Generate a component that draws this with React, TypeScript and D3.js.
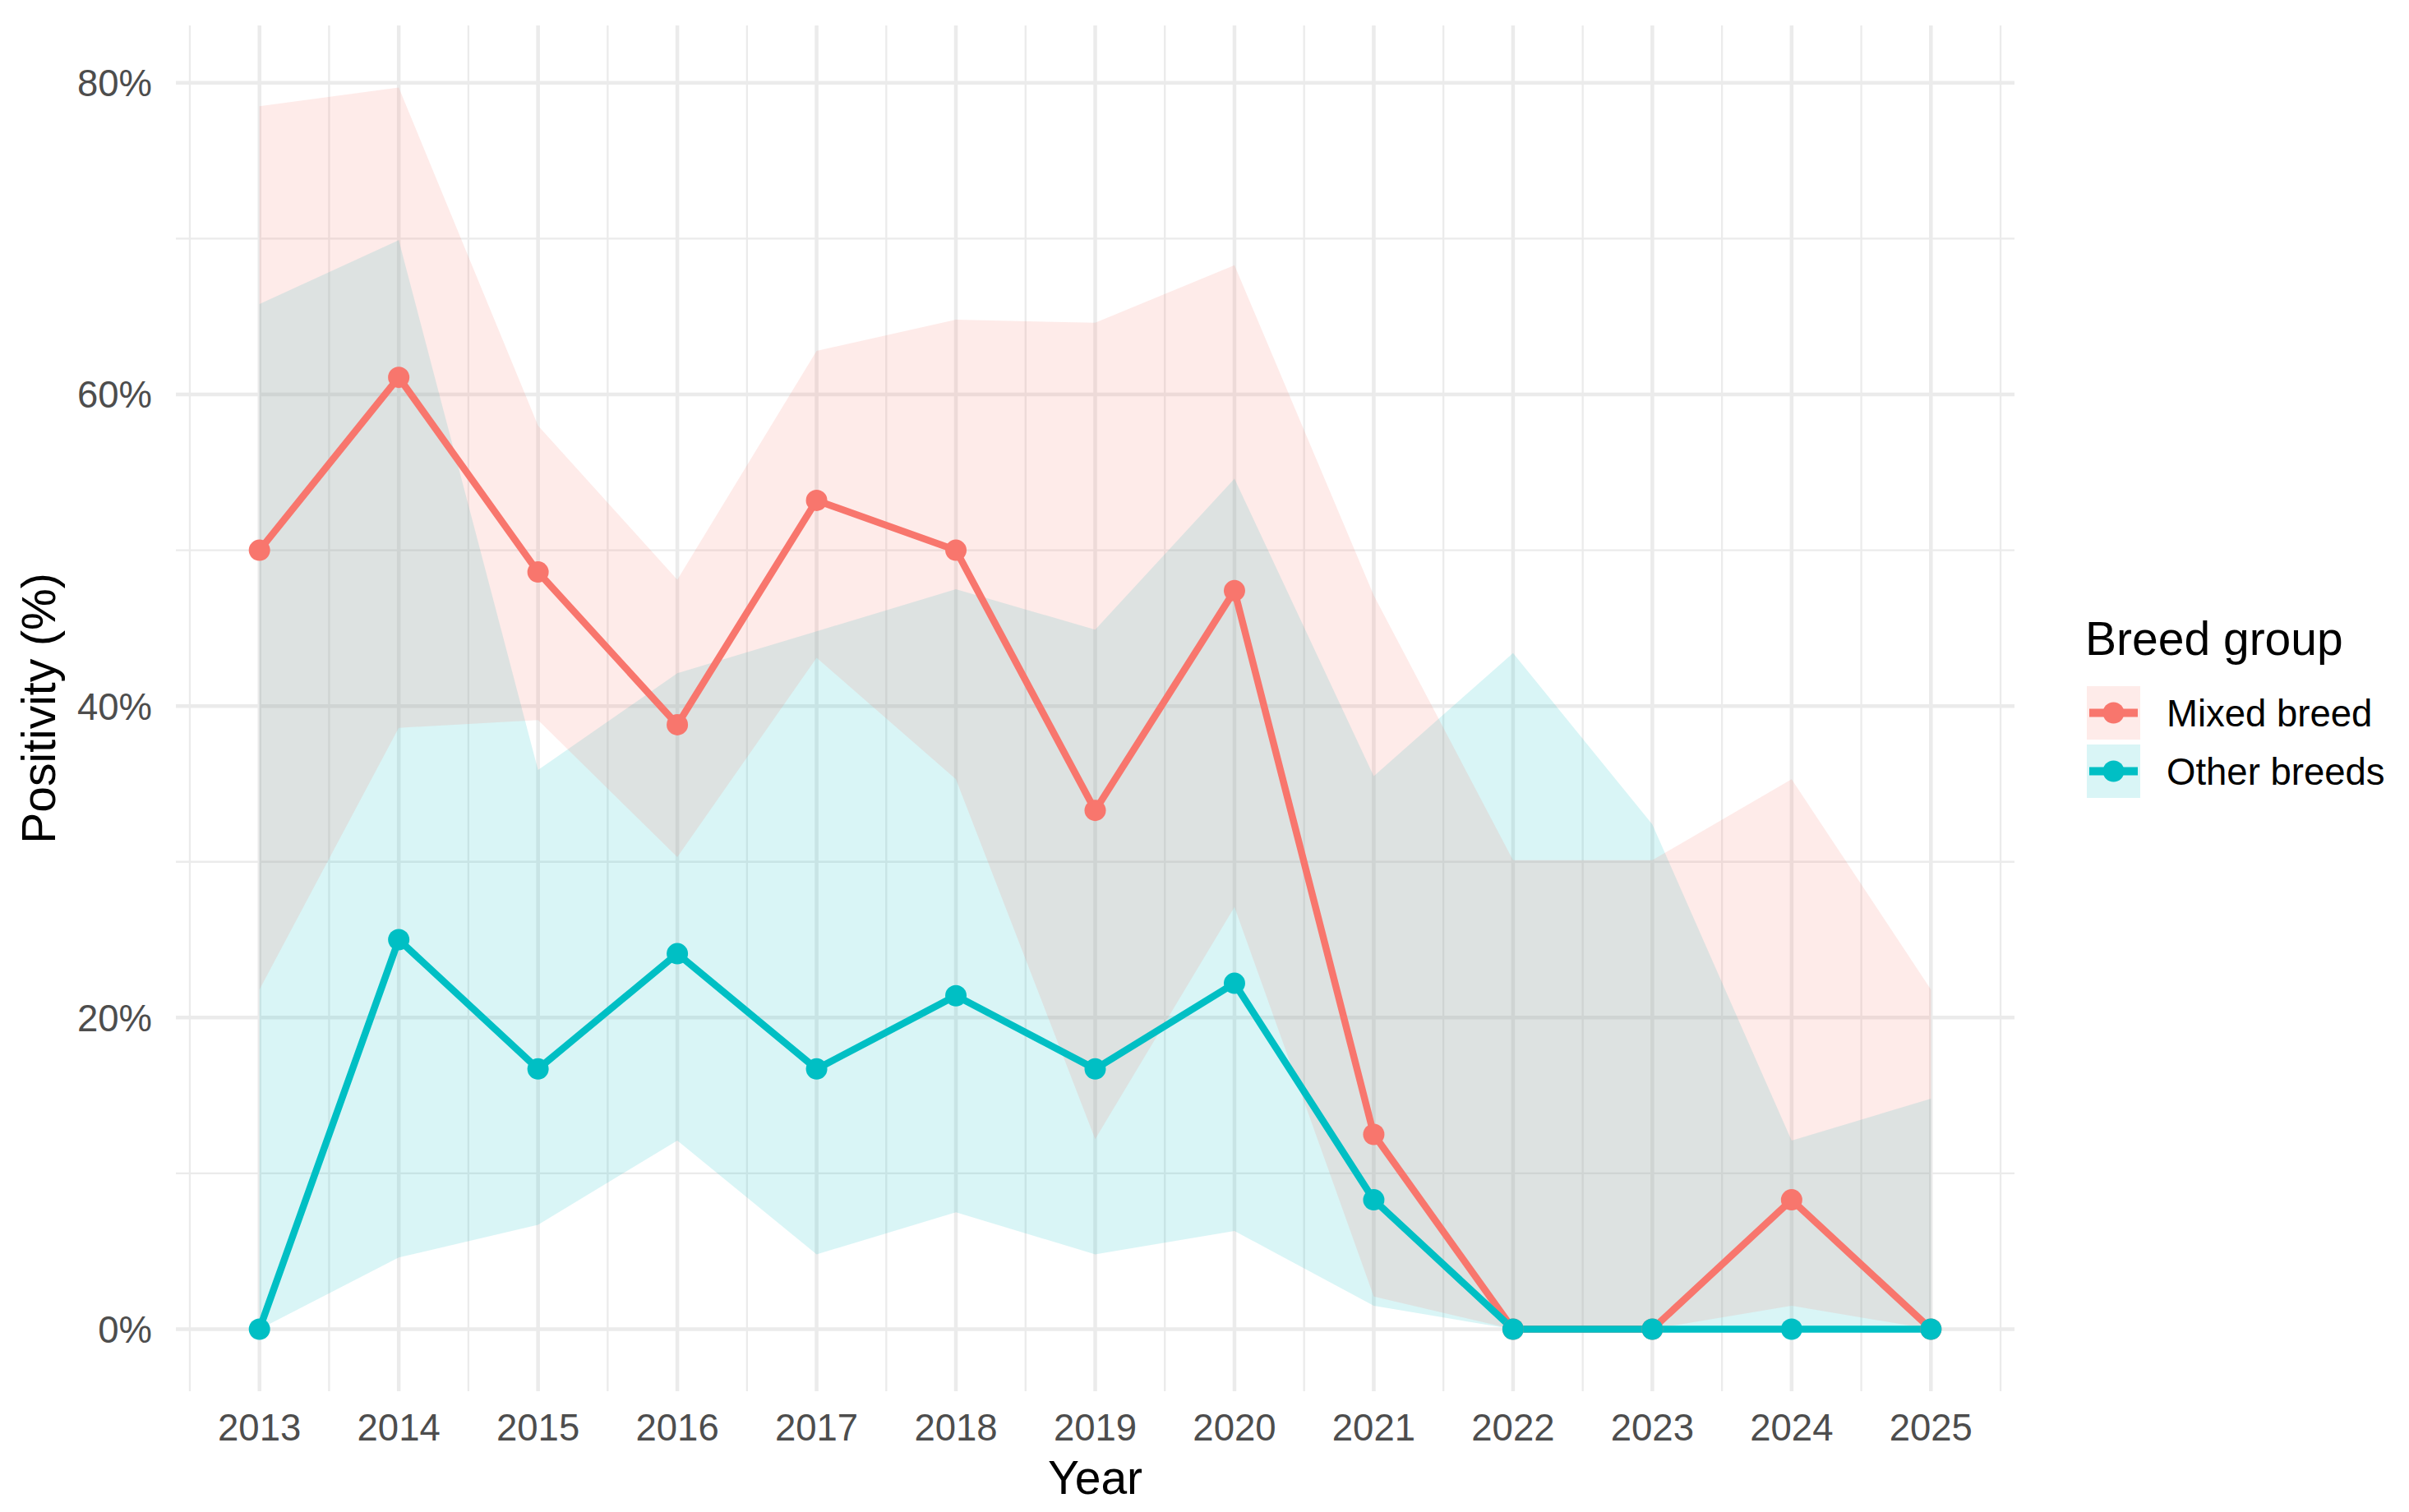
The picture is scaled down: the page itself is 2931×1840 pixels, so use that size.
import React from "react";
import * as d3 from "d3";

const years = [2013, 2014, 2015, 2016, 2017, 2018, 2019, 2020, 2021, 2022, 2023, 2024, 2025];

const mixedRate = [50.0, 61.1, 48.6, 38.8, 53.2, 50.0, 33.3, 47.4, 12.5, 0, 0, 8.3, 0];
const mixedLower = [21.8, 38.6, 39.1, 30.3, 43.1, 35.3, 12.2, 27.1, 2.1, 0, 0, 1.5, 0];
const mixedUpper = [78.5, 79.7, 58.0, 48.1, 62.8, 64.8, 64.6, 68.3, 47.1, 30.1, 30.1, 35.3, 21.8];

const otherRate = [0, 25.0, 16.7, 24.1, 16.7, 21.4, 16.7, 22.2, 8.3, 0, 0, 0, 0];
const otherLower = [0, 4.6, 6.7, 12.1, 4.8, 7.5, 4.8, 6.3, 1.5, 0, 0, 0, 0];
const otherUpper = [65.8, 69.9, 35.9, 42.1, 44.8, 47.5, 44.9, 54.6, 35.5, 43.4, 32.4, 12.1, 14.8];

const yTicks = [0, 20, 40, 60, 80];
const yMinor = [10, 30, 50, 70];
const groupNames = ["Mixed breed", "Other breeds"];
const groupColors = ["#F8766D", "#00BFC4"];

const W = 2931;
const H = 1840;
const FONT = "'Liberation Sans', Arial, Helvetica, sans-serif";

export default function App() {
  const left = 214, right = 2451, top = 31, bottom = 1693;

  const xMin = d3.min(years)!, xMax = d3.max(years)!;
  const xPad = (xMax - xMin) * 0.05;
  const x = d3.scaleLinear().domain([xMin - xPad, xMax + xPad]).range([left, right]);

  const allVals = [...mixedUpper, ...otherUpper, ...mixedLower, ...otherLower, ...mixedRate, ...otherRate];
  const yLo = d3.min(allVals)!, yHi = d3.max(allVals)!;
  const yPad = (yHi - yLo) * 0.05;
  const y = d3.scaleLinear().domain([yLo - yPad, yHi + yPad]).range([bottom, top]);

  const xMinor = d3.range(xMin - 0.5, xMax + 1, 1);

  const series = [
    { name: groupNames[0], color: groupColors[0], rate: mixedRate, lo: mixedLower, hi: mixedUpper },
    { name: groupNames[1], color: groupColors[1], rate: otherRate, lo: otherLower, hi: otherUpper },
  ];

  const mkArea = (lo: number[], hi: number[]) =>
    d3
      .area<number>()
      .x((_, i) => x(years[i]))
      .y0((_, i) => y(lo[i]))
      .y1((_, i) => y(hi[i]))(years);

  const line = d3
    .line<number>()
    .x((_, i) => x(years[i]))
    .y((d) => y(d));

  const grid = "#EBEBEB";
  const majorW = 4.5;
  const minorW = 2.3;
  const ribbonAlpha = 0.15;
  const lineW = 8.5;
  const ptR = 13;

  // legend layout
  const legX = 2539;
  const keySize = 65;
  const keyYs = [835, 906];

  const ribbonOrder = [series[1], series[0]];

  return (
    <svg
      width={W}
      height={H}
      viewBox={`0 0 ${W} ${H}`}
      style={{ position: "absolute", left: 0, top: 0, background: "#fff" }}
      fontFamily={FONT}
    >
      <rect x={0} y={0} width={W} height={H} fill="#fff" />
      {/* minor grid */}
      {yMinor.map((v) => (
        <line key={"ym" + v} x1={left} x2={right} y1={y(v)} y2={y(v)} stroke={grid} strokeWidth={minorW} />
      ))}
      {xMinor.map((v) => (
        <line key={"xm" + v} x1={x(v)} x2={x(v)} y1={top} y2={bottom} stroke={grid} strokeWidth={minorW} />
      ))}
      {/* major grid */}
      {yTicks.map((v) => (
        <line key={"yM" + v} x1={left} x2={right} y1={y(v)} y2={y(v)} stroke={grid} strokeWidth={majorW} />
      ))}
      {years.map((v) => (
        <line key={"xM" + v} x1={x(v)} x2={x(v)} y1={top} y2={bottom} stroke={grid} strokeWidth={majorW} />
      ))}

      {/* ribbons */}
      {ribbonOrder.map((s) => (
        <path key={"rib" + s.name} d={mkArea(s.lo, s.hi) || ""} fill={s.color} fillOpacity={ribbonAlpha} stroke="none" />
      ))}

      {/* lines */}
      {series.map((s) => (
        <path
          key={"ln" + s.name}
          d={line(s.rate) || ""}
          fill="none"
          stroke={s.color}
          strokeWidth={lineW}
          strokeLinejoin="round"
          strokeLinecap="butt"
        />
      ))}

      {/* points */}
      {series.map((s) =>
        s.rate.map((v, i) => (
          <circle key={"pt" + s.name + i} cx={x(years[i])} cy={y(v)} r={ptR} fill={s.color} />
        ))
      )}

      {/* y tick labels */}
      {yTicks.map((v) => (
        <text
          key={"yt" + v}
          x={185}
          y={y(v)}
          dy="0.36em"
          textAnchor="end"
          fontSize={45.5}
          fill="#4D4D4D"
        >
          {`${v}%`}
        </text>
      ))}

      {/* x tick labels */}
      {years.map((v) => (
        <text key={"xt" + v} x={x(v)} y={1753} textAnchor="middle" fontSize={45.5} fill="#4D4D4D">
          {v}
        </text>
      ))}

      {/* axis titles */}
      <text x={(left + right) / 2} y={1818} textAnchor="middle" fontSize={57} fill="#000">
        Year
      </text>
      <text
        transform={`translate(67, ${(top + bottom) / 2}) rotate(-90)`}
        textAnchor="middle"
        fontSize={57}
        fill="#000"
      >
        Positivity (%)
      </text>

      {/* legend */}
      <text x={2537} y={797} fontSize={57} fill="#000">
        Breed group
      </text>
      {series.map((s, i) => {
        const ky = keyYs[i];
        const cy = ky + keySize / 2;
        return (
          <g key={"leg" + s.name}>
            <rect x={legX} y={ky} width={keySize} height={keySize} fill={s.color} fillOpacity={ribbonAlpha} />
            <line x1={legX + 3} x2={legX + keySize - 3} y1={cy} y2={cy} stroke={s.color} strokeWidth={lineW + 1.5} />
            <circle cx={legX + keySize / 2} cy={cy} r={ptR} fill={s.color} />
            <text x={2636} y={cy} dy="0.36em" fontSize={45.5} fill="#000">
              {s.name}
            </text>
          </g>
        );
      })}
    </svg>
  );
}
